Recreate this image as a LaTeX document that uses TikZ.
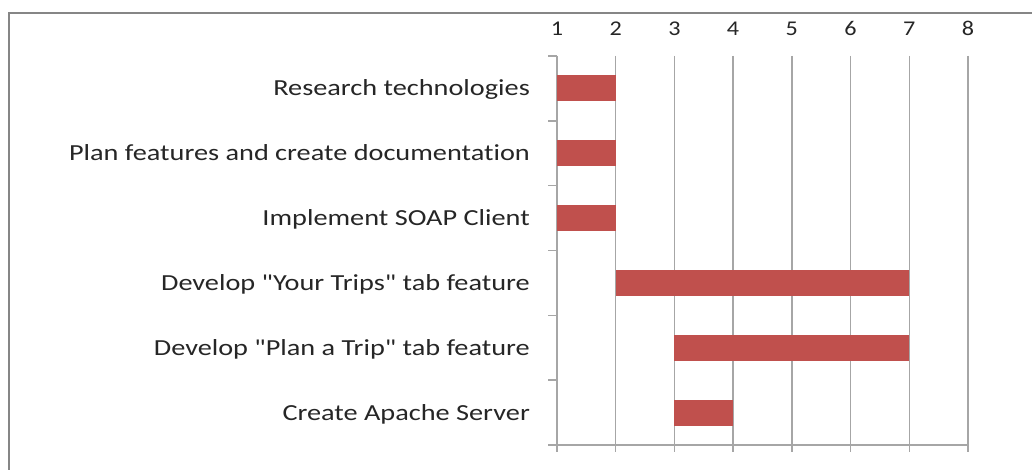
\documentclass[tikz,border=0pt]{standalone}
\usepackage{fontspec}
\setmainfont{Carlito}
\newfontfamily\labfont[FakeStretch=1.23,Ligatures={NoCommon}]{Carlito}
\newfontfamily\numfont[FakeStretch=1.15]{Carlito}
\definecolor{barred}{HTML}{C0504D}
\definecolor{gridgray}{HTML}{A6A6A6}
\definecolor{framegray}{HTML}{868686}
\tikzset{
  gridline/.style={draw=gridgray, line width=1.4pt},
  bar/.style={fill=barred, draw=none},
  tasklabel/.style={anchor=base east, inner sep=0pt, font=\labfont\fontsize{23}{26}\selectfont, text=black!85},
  numlabel/.style={anchor=base, inner sep=0pt, font=\numfont\fontsize{21}{24}\selectfont, text=black!85}
}
\begin{document}
\begin{tikzpicture}[x=1pt,y=-1pt]
\useasboundingbox (0,0) rectangle (1032,470);
\fill[white] (0,0) rectangle (1032,470);
% frame
\draw[framegray, line width=2.2pt] (9,470) -- (9,13) -- (1032,13);
% vertical grid lines
\foreach \i in {1,...,8} {
  \pgfmathsetmacro{\xx}{557+(\i-1)*58.7}
  \draw[gridline] (\xx,56) -- (\xx,452);
  \node[numlabel] (n\i) at (\xx,36) {\i};
}
% category ticks
\foreach \k in {0,...,6} {
  \pgfmathsetmacro{\yy}{56+\k*64.83}
  \draw[gridline] (548,\yy) -- (557,\yy);
}
\draw[gridline] (548,445) -- (968,445);
% bars
\foreach \r/\s/\e/\t in {
  1/1/2/{Research technologies},
  2/1/2/{Plan features and create documentation},
  3/1/2/{Implement SOAP Client},
  4/2/7/{Develop "Your Trips" tab feature},
  5/3/7/{Develop "Plan a Trip" tab feature},
  6/3/4/{Create Apache Server}} {
  \pgfmathsetmacro{\yc}{56+(\r-0.5)*64.83}
  \pgfmathsetmacro{\xs}{557+(\s-1)*58.7}
  \pgfmathsetmacro{\xe}{557+(\e-1)*58.7}
  \path[bar] (\xs,\yc-13) rectangle (\xe,\yc+13);
  \node[tasklabel] (t\r) at (530,\yc+7.5) {\t};
}
\end{tikzpicture}
\end{document}
